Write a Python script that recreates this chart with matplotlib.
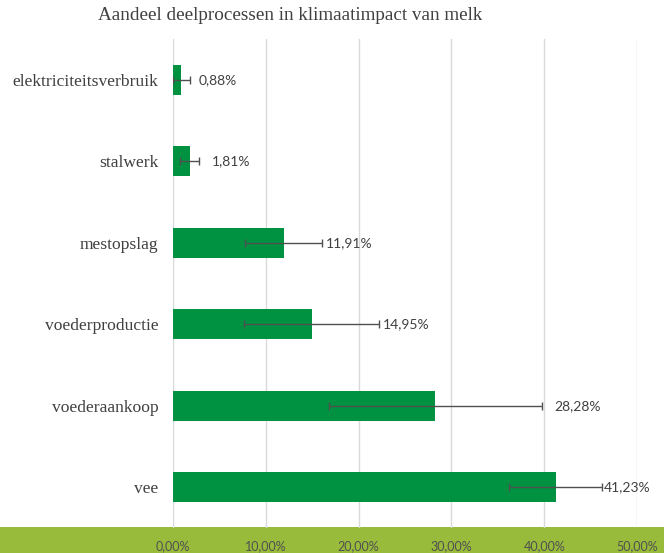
import matplotlib
matplotlib.use("Agg")
import matplotlib.pyplot as plt
from matplotlib.patches import Rectangle
from matplotlib.transforms import offset_copy

categories = ["vee", "voederaankoop", "voederproductie", "mestopslag", "stalwerk", "elektriciteitsverbruik"]
values = [41.23, 28.28, 14.95, 11.91, 1.81, 0.88]
errors = [5.0, 11.5, 7.25, 4.1, 1.04, 0.9]
value_labels = ["41,23%", "28,28%", "14,95%", "11,91%", "1,81%", "0,88%"]
xticks = [0, 10, 20, 30, 40, 50]
xtick_labels = ["0,00%", "10,00%", "20,00%", "30,00%", "40,00%", "50,00%"]
title = "Aandeel deelprocessen in klimaatimpact van melk"

# label gap after error-bar end, in pixels (layout)
label_gap_px = [2, 12, 4, 4, 12, 9]

W, H = 664, 553
fig = plt.figure(figsize=(W / 100, H / 100), dpi=100)
fig.patch.set_facecolor("white")

band = Rectangle((0, 0), 1, 26 / H, transform=fig.transFigure, facecolor="#98BB3B",
                 edgecolor="none", zorder=-1)
fig.patches.append(band)

ax = fig.add_axes([173 / W, (H - 528) / H, (637 - 173) / W, (528 - 39) / H])
ax.set_facecolor("none")

ypos = list(range(len(categories)))
ax.barh(ypos, values, height=0.37, color="#009241", zorder=2)
ax.errorbar(values, ypos, xerr=errors, fmt="none", ecolor="#505050", elinewidth=1,
            capsize=3, capthick=1, zorder=3)

for y, v, e, lab, g in zip(ypos, values, errors, value_labels, label_gap_px):
    tr = offset_copy(ax.transData, fig=fig, x=g, y=0, units="dots")
    ax.text(v + e, y, lab, va="center", ha="left", fontsize=10,
            color="#404040", family="Lato", clip_on=False, zorder=4, transform=tr)

ax.set_xlim(0, 50)
ax.set_ylim(-0.5, 5.5)
ax.set_xticks(xticks)
ax.set_xticklabels(xtick_labels, fontsize=9, color="#505050", family="Lato")
ax.set_yticks(ypos)
ax.set_yticklabels(categories, fontsize=12.6, color="#404040", family="Liberation Serif")
ax.tick_params(axis="x", length=0, pad=9)
ax.tick_params(axis="y", length=0, pad=10.5)
ax.grid(axis="x", color="#D9D9D9", linewidth=1, zorder=0)
ax.set_axisbelow(True)
for s in ax.spines.values():
    s.set_visible(False)

fig.text(290 / W, 1 - 15 / H, title, ha="center", va="center", fontsize=13.8,
         color="#404040", family="Liberation Serif")

fig.savefig("out.png", dpi=100)
